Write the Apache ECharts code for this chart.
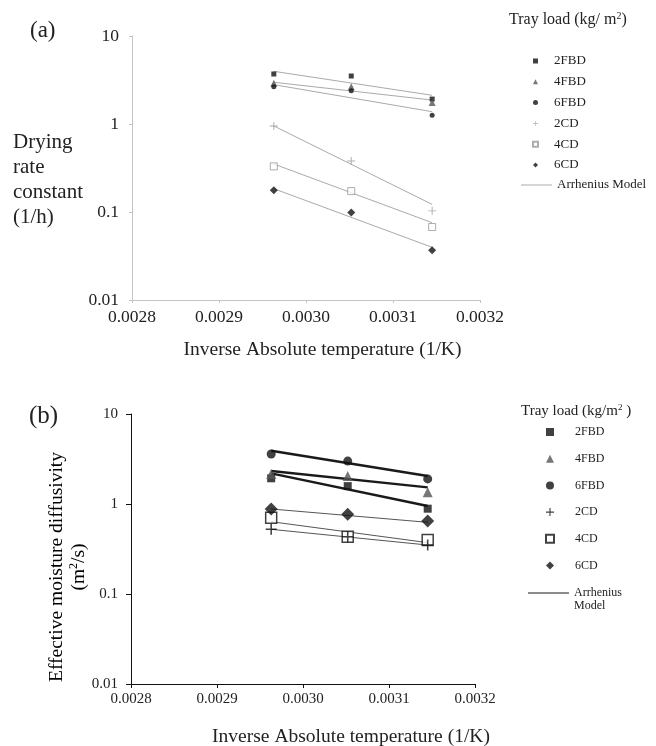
<!DOCTYPE html>
<html>
<head>
<meta charset="utf-8">
<script src="https://cdn.jsdelivr.net/npm/echarts@6/dist/echarts.min.js"></script>
<style>
  html, body { margin: 0; padding: 0; background: #fff; }
  #chart { width: 656px; height: 746px; }
</style>
</head>
<body>
<div id="chart"></div>
<script>
// inverse absolute temperature (1/K), same three runs in both panels
var invTemp = [0.002963, 0.003052, 0.003145];
var xTicks = ['0.0028', '0.0029', '0.0030', '0.0031', '0.0032'];
var yTicks = ['0.01', '0.1', '1', '10'];
var loads = ['2FBD', '4FBD', '6FBD', '2CD', '4CD', '6CD'];

// (a) drying rate constant (1/h), measured
var k2FBD = [3.70, 3.51, 1.92];
var k4FBD = [2.90, 2.65, 1.75];
var k6FBD = [2.65, 2.39, 1.26];
var k2CD = [0.95, 0.38, 0.103];
var k4CD = [0.33, 0.173, 0.0675];
var k6CD = [0.177, 0.099, 0.0367];
// (a) Arrhenius model, values at first and last temperature
var km2FBD = [3.97, 2.12];
var km4FBD = [2.98, 1.87];
var km6FBD = [2.80, 1.38];
var km2CD = [0.95, 0.122];
var km4CD = [0.351, 0.0756];
var km6CD = [0.184, 0.0397];

// (b) effective moisture diffusivity, measured
var d2FBD = [1.93, 1.58, 0.887];
var d4FBD = [2.15, 2.05, 1.35];
var d6FBD = [3.59, 3.00, 1.90];
var d2CD = [0.523, 0.433, 0.35];
var d4CD = [0.704, 0.433, 0.398];
var d6CD = [0.88, 0.77, 0.647];
// (b) Arrhenius model
var dm2FBD = [2.19, 0.95];
var dm4FBD = [2.33, 1.53];
var dm6FBD = [3.91, 2.05];
var dm2CD = [0.523, 0.35];
var dm4CD = [0.636, 0.372];
var dm6CD = [0.88, 0.626];

var FONT = 'Liberation Serif';
var INK = '#222';
var plusThin = 'path://M4.4,0H5.6V4.4H10V5.6H5.6V10H4.4V5.6H0V4.4H4.4Z';
var plusBold = 'path://M4.3,0H5.7V4.3H10V5.7H5.7V10H4.3V5.7H0V4.3H4.3Z';

function pts(ys) {
  return ys.map(function (y, i) { return [invTemp[i], y]; });
}
function ends(ys) {
  return [[invTemp[0], ys[0]], [invTemp[invTemp.length - 1], ys[1]]];
}
function scatter(name, idx, ys, symbol, size, color, border) {
  var s = {
    name: name, type: 'scatter', xAxisIndex: idx, yAxisIndex: idx,
    data: pts(ys), symbol: symbol, symbolSize: size, z: 5,
    itemStyle: { color: color, borderWidth: 0 }
  };
  if (border) s.itemStyle = { color: '#fff', borderColor: border[0], borderWidth: border[1] };
  return s;
}
function model(name, idx, ys, color, width) {
  return {
    name: name, type: 'line', xAxisIndex: idx, yAxisIndex: idx,
    data: ends(ys), symbol: 'none', silent: true, z: 2,
    itemStyle: { color: color },
    lineStyle: { color: color, width: width }
  };
}

function xAxis(idx, color, nameGap, shift, tickLen, size) {
  return {
    gridIndex: idx, type: 'value', min: 0.0028, max: 0.0032, interval: 0.0001,
    name: 'Inverse Absolute temperature (1/K)', nameLocation: 'middle', nameGap: nameGap,
    nameTextStyle: { fontFamily: FONT, fontSize: 19.5, color: INK, padding: [0, 0, 0, shift] },
    axisLine: { lineStyle: { color: color, width: 1 } },
    axisTick: { show: true, inside: false, length: tickLen, lineStyle: { color: color } },
    splitLine: { show: false },
    axisLabel: {
      fontFamily: FONT, fontSize: size, color: INK, margin: 8,
      formatter: function (v) {
        var i = Math.round((v - 0.0028) / 0.0001);
        return xTicks[i] || v.toFixed(4);
      }
    }
  };
}
function yAxis(idx, color, tickLen, size) {
  return {
    gridIndex: idx, type: 'log', logBase: 10, min: 0.01, max: 10,
    axisLine: { show: true, lineStyle: { color: color, width: 1 } },
    axisTick: { show: true, inside: false, length: tickLen, lineStyle: { color: color } },
    minorTick: { show: false },
    splitLine: { show: false },
    axisLabel: {
      fontFamily: FONT, fontSize: size, color: INK, margin: 13,
      formatter: function (v) {
        var i = Math.round(Math.log10(v)) + 2;
        return yTicks[i] || String(+v.toPrecision(2));
      }
    }
  };
}

function strip(n) { return n.split(':')[1]; }

var greyA = '#aaaaaa';

var series = [
  model('a:Arrhenius Model', 0, km2FBD, greyA, 1),
  model('a:Arrhenius Model', 0, km4FBD, greyA, 1),
  model('a:Arrhenius Model', 0, km6FBD, greyA, 1),
  model('a:Arrhenius Model', 0, km2CD, greyA, 1),
  model('a:Arrhenius Model', 0, km4CD, greyA, 1),
  model('a:Arrhenius Model', 0, km6CD, greyA, 1),
  scatter('a:2FBD', 0, k2FBD, 'rect', 5, '#111'),
  scatter('a:4FBD', 0, k4FBD, 'triangle', 7, '#555'),
  scatter('a:6FBD', 0, k6FBD, 'circle', 5, '#111'),
  scatter('a:2CD', 0, k2CD, plusThin, 8, '#999'),
  scatter('a:4CD', 0, k4CD, 'rect', 7, null, ['#999', 1]),
  scatter('a:6CD', 0, k6CD, 'diamond', 8, '#111'),

  model('b:Arrhenius Model', 1, dm2FBD, '#1a1a1a', 2.5),
  model('b:Arrhenius Model', 1, dm4FBD, '#1a1a1a', 2.5),
  model('b:Arrhenius Model', 1, dm6FBD, '#1a1a1a', 2.5),
  model('b:Arrhenius Model', 1, dm2CD, '#555', 1),
  model('b:Arrhenius Model', 1, dm4CD, '#555', 1),
  model('b:Arrhenius Model', 1, dm6CD, '#555', 1),
  scatter('b:2FBD', 1, d2FBD, 'rect', 8, '#111'),
  scatter('b:4FBD', 1, d4FBD, 'triangle', 10, '#555'),
  scatter('b:6FBD', 1, d6FBD, 'circle', 9, '#111'),
  scatter('b:4CD', 1, d4CD, 'rect', 11, null, ['#111', 1.5]),
  scatter('b:2CD', 1, d2CD, plusBold, 11, '#111'),
  scatter('b:6CD', 1, d6CD, 'diamond', 13, '#111')
];

var supRich = function (size) {
  return {
    t: { fontFamily: FONT, fontSize: size, fontWeight: 'normal', color: INK, lineHeight: size + 2 },
    s: { fontFamily: FONT, fontSize: Math.round(size * 0.62), fontWeight: 'normal', color: INK,
         verticalAlign: 'top', lineHeight: size * 0.62 }
  };
};

var option = {
  backgroundColor: '#fff',
  animation: false,
  title: [
    { text: '(a)', left: 30, top: 19, padding: 0,
      textStyle: { fontFamily: FONT, fontSize: 23, fontWeight: 'normal', color: INK } },
    { text: '(b)', left: 29, top: 404, padding: 0,
      textStyle: { fontFamily: FONT, fontSize: 25, fontWeight: 'normal', color: INK } },
    { text: 'Drying\nrate\nconstant\n(1/h)', left: 13, top: 130, padding: 0,
      textStyle: { fontFamily: FONT, fontSize: 21, lineHeight: 25, fontWeight: 'normal', color: INK } },
    { text: '{t|Tray load (kg/ m}{s|2}{t|)}', left: 509, top: 11, padding: 0,
      textStyle: { fontWeight: 'normal', rich: supRich(16) } },
    { text: '{t|Tray load (kg/m}{s|2}{t| )}', left: 521, top: 403, padding: 0,
      textStyle: { fontWeight: 'normal', rich: supRich(15) } },
    { text: 'Model', left: 574, top: 600, padding: 0,
      textStyle: { fontFamily: FONT, fontSize: 12, fontWeight: 'normal', color: INK } }
  ],
  // rotated y-axis title of panel (b)
  graphic: [{
    type: 'text', x: 68, y: 567, rotation: Math.PI / 2,
    style: {
      text: '{t|Effective moisture diffusivity}\n{t|(m}{s|2}{t|/s)}',
      rich: supRich(19.5), align: 'center', verticalAlign: 'middle'
    }
  }],
  legend: [
    { orient: 'vertical', left: 532, top: 54, padding: 0, itemGap: 6.8,
      itemWidth: 5, itemHeight: 5, selectedMode: false,
      data: loads.map(function (l) { return 'a:' + l; }), formatter: strip,
      textStyle: { fontFamily: FONT, fontSize: 13, lineHeight: 14, color: INK, padding: [0, 0, 0, 11] } },
    { orient: 'vertical', left: 521, top: 178, padding: 0, icon: 'rect',
      itemWidth: 31, itemHeight: 1, selectedMode: false,
      data: ['a:Arrhenius Model'], formatter: strip,
      textStyle: { fontFamily: FONT, fontSize: 13, lineHeight: 14, color: INK } },
    { orient: 'vertical', left: 545, top: 425, padding: 0, itemGap: 12.7,
      itemWidth: 8, itemHeight: 8, selectedMode: false,
      data: loads.map(function (l) { return 'b:' + l; }), formatter: strip,
      textStyle: { fontFamily: FONT, fontSize: 12, lineHeight: 14, color: INK, padding: [0, 0, 0, 16] } },
    { orient: 'vertical', left: 528, top: 586, padding: 0, icon: 'rect',
      itemWidth: 41, itemHeight: 1, selectedMode: false,
      data: ['b:Arrhenius Model'], formatter: function () { return 'Arrhenius'; },
      textStyle: { fontFamily: FONT, fontSize: 12, lineHeight: 14, color: INK } }
  ],
  grid: [
    { left: 132, top: 36, width: 348, height: 264, outerBoundsMode: 'none' },
    { left: 131, top: 414, width: 344, height: 270, outerBoundsMode: 'none' }
  ],
  xAxis: [
    xAxis(0, '#c4c4c4', 40, 33, 3, 17.5),
    xAxis(1, '#111', 43, 96, 4, 15)
  ],
  yAxis: [
    yAxis(0, '#c4c4c4', 3, 17.5),
    yAxis(1, '#111', 5, 15)
  ],
  series: series
};

var chart = echarts.init(document.getElementById('chart'), null, { renderer: 'canvas' });
chart.setOption(option);
</script>
</body>
</html>
